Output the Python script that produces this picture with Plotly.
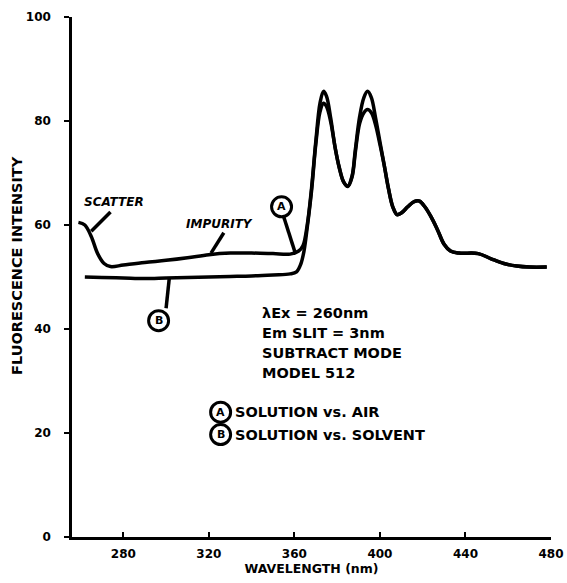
import plotly.graph_objects as go

# curve A: solution vs air
wl_a = [259, 262, 265, 268, 271, 274, 280, 290, 300, 310, 320, 330, 340, 350, 358, 362,
        364, 366, 368, 370, 372, 373.6, 375, 377, 379, 381, 383, 385, 387, 388.5, 390.5,
        392.5, 394.2, 396, 398, 400, 402, 404, 406, 408, 410, 413, 416, 418.5, 421, 424,
        427, 430, 433, 437, 446, 452, 458, 464, 470, 478]
int_a = [60.5, 60.0, 57.8, 54.5, 52.6, 52.0, 52.3, 52.8, 53.2, 53.7, 54.3, 54.6, 54.6, 54.5, 54.4, 55.0,
         56.0, 60.0, 67.0, 76.0, 83.5, 85.7, 84.8, 80.5, 75.0, 71.0, 68.3, 67.5, 69.5, 74.5, 80.8,
         84.5, 85.7, 84.5, 80.5, 76.0, 71.5, 67.0, 63.5, 62.0, 62.3, 63.5, 64.5, 64.6, 63.5, 61.5,
         59.0, 56.3, 55.0, 54.6, 54.5, 53.5, 52.6, 52.1, 51.9, 51.9]

# curve B: solution vs solvent
wl_b = [262, 270, 280, 290, 300, 310, 320, 330, 340, 350, 358, 361, 363, 364.5,
        366, 368, 370, 372, 373.6, 375, 377, 379, 381, 383, 385, 387, 388.5, 390.5,
        392.5, 394.2, 396, 398, 400, 402, 404, 406, 408, 410, 413, 416, 418.5, 421, 424,
        427, 430, 433, 437, 446, 452, 458, 464, 470, 478]
int_b = [50.0, 49.9, 49.8, 49.7, 49.8, 49.9, 50.0, 50.1, 50.2, 50.4, 50.6, 51.0, 52.5, 55.0,
         59.5, 66.5, 75.5, 81.8, 83.4, 82.8, 79.8, 75.0, 71.0, 68.3, 67.4, 69.3, 74.0, 79.5,
         81.6, 82.2, 81.6, 79.2, 75.5, 71.5, 67.0, 63.5, 62.0, 62.3, 63.5, 64.5, 64.6, 63.5, 61.5,
         59.0, 56.3, 55.0, 54.6, 54.5, 53.5, 52.6, 52.1, 51.9, 51.9]

x_ticks = [280, 320, 360, 400, 440, 480]
y_ticks = [0, 20, 40, 60, 80, 100]

info_lines = ["λEx = 260nm", "Em SLIT = 3nm", "SUBTRACT MODE", "MODEL 512"]
legend_lines = [("A", "SOLUTION vs. AIR"), ("B", "SOLUTION vs. SOLVENT")]

FONT = "DejaVu Sans"
BLK = "black"

fig = go.Figure()
fig.add_scatter(x=wl_b, y=int_b, mode="lines", line=dict(color=BLK, width=3.5),
                line_shape="spline", showlegend=False, hoverinfo="skip")
fig.add_scatter(x=wl_a, y=int_a, mode="lines", line=dict(color=BLK, width=3.5),
                line_shape="spline", showlegend=False, hoverinfo="skip")

# pointer lines
pointers = [((274, 62.5), (265, 58.8)),   # scatter
            ((327, 58.5), (321, 54.6)),   # impurity
            ((355, 61.6), (360.5, 54.5)),  # A
            ((300, 44.0), (301.5, 49.8))]  # B
for (x0, y0), (x1, y1) in pointers:
    fig.add_shape(type="line", x0=x0, y0=y0, x1=x1, y1=y1, xref="x", yref="y",
                  line=dict(color=BLK, width=3.5))


def circ(xa, ya, letter, xref="x", yref="y"):
    fig.add_shape(type="circle", xref=xref, yref=yref, xsizemode="pixel", ysizemode="pixel",
                  xanchor=xa, yanchor=ya, x0=-10, x1=10, y0=-10, y1=10,
                  line=dict(color=BLK, width=3), fillcolor="white")
    fig.add_annotation(x=xa, y=ya, xref=xref, yref=yref, text="<b>%s</b>" % letter,
                       showarrow=False, font=dict(family=FONT, size=11, color=BLK))


circ(354, 63.5, "A")
circ(296.5, 41.6, "B")

fig.add_annotation(x=275.5, y=64.4, text="<b><i>SCATTER</i></b>", showarrow=False,
                   font=dict(family=FONT, size=12, color=BLK))
fig.add_annotation(x=325, y=60.2, text="<b><i>IMPURITY</i></b>", showarrow=False,
                   font=dict(family=FONT, size=12, color=BLK))

for i, t in enumerate(info_lines):
    fig.add_annotation(x=344, y=43.0 - i * 3.85, text="<b>%s</b>" % t, showarrow=False,
                       xanchor="left", font=dict(family=FONT, size=14.5, color=BLK))

for i, (letter, t) in enumerate(legend_lines):
    yy = 24.0 - i * 4.3
    circ(325.5, yy, letter)
    fig.add_annotation(x=331.5, y=yy, text="<b>%s</b>" % t, showarrow=False,
                       xanchor="left", font=dict(family=FONT, size=14.5, color=BLK))

# y axis title
fig.add_annotation(x=-0.115, y=0.523, xref="paper", yref="paper", textangle=-90,
                   xanchor="center", yanchor="middle",
                   text="<b>FLUORESCENCE INTENSITY</b>", showarrow=False,
                   font=dict(family=FONT, size=14.5, color=BLK))

fig.update_layout(
    width=567, height=583, autosize=False,
    margin=dict(l=72, r=16, t=17, b=46),
    plot_bgcolor="white", paper_bgcolor="white",
    font=dict(family=FONT, color=BLK),
)
fig.update_xaxes(range=[256, 480], tickvals=x_ticks, ticks="inside", ticklen=5, tickwidth=2,
                 tickcolor=BLK, showline=True, linecolor=BLK, linewidth=2.5,
                 showgrid=False, zeroline=False, automargin=False, ticklabelstandoff=4,
                 tickfont=dict(family=FONT, size=12, color=BLK, weight="bold"),
                 title=dict(text="<b>WAVELENGTH (nm)</b>", font=dict(family=FONT, size=12.5), standoff=4))
fig.update_yaxes(range=[0, 100], tickvals=y_ticks, ticks="outside", ticklen=5, tickwidth=2,
                 tickcolor=BLK, showline=True, linecolor=BLK, linewidth=2.5,
                 showgrid=False, zeroline=False, ticklabelstandoff=11, automargin=False,
                 tickfont=dict(family=FONT, size=12, color=BLK, weight="bold"))

fig.write_html("out.html", config={"displayModeBar": False},
               post_script="document.body.style.margin='0';document.body.style.overflow='hidden';")
